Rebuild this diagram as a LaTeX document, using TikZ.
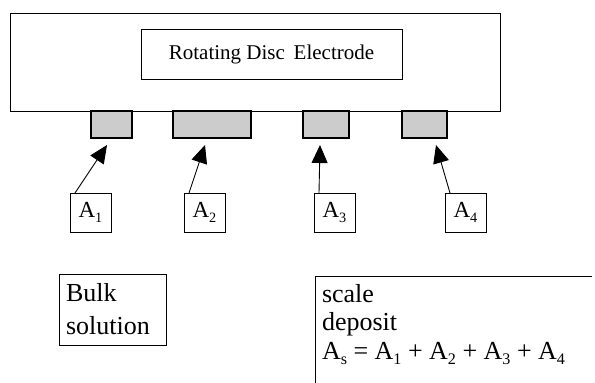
\documentclass[tikz,border=0pt]{standalone}
\usepackage{fontspec}
\usepackage{graphicx}
\setmainfont{Liberation Serif}
\usetikzlibrary{arrows.meta,calc}

% lowered, reduced subscript in text font
\newcommand{\lowsub}[1]{\raisebox{-0.22em}{\scalebox{0.62}{#1}}}

\tikzset{
  frame/.style={draw=black, line width=0.9pt, inner sep=0pt, outer sep=0pt, anchor=north west},
  pad/.style={frame, fill=black!20, line width=1.3pt},
  labelbox/.style={frame, minimum width=41pt, minimum height=39pt, font=\fontsize{23}{27}\selectfont},
  arr/.style={line width=0.9pt, -{Triangle[length=18pt,width=16pt]}},
  txt/.style={font=\fontsize{26}{33}\selectfont, align=left, anchor=north west}
}

\begin{document}
\begin{tikzpicture}[x=1pt, y=-1pt]
  \useasboundingbox[fill=white] (0,0) rectangle (595,383);

  % electrode body and its label
  \node[frame, minimum width=490pt, minimum height=98pt] (body) at (10,13) {};
  \node[frame, minimum width=261pt, minimum height=50pt,
        font=\fontsize{21}{25}\selectfont] (rde) at (141,29) {Rotating Disc\, Electrode};

  % surface areas on the electrode face
  \node[pad, minimum width=41pt, minimum height=27pt] (g1) at (91,111) {};
  \node[pad, minimum width=78pt, minimum height=27pt] (g2) at (173,111) {};
  \node[pad, minimum width=46pt, minimum height=27pt] (g3) at (303,111) {};
  \node[pad, minimum width=45pt, minimum height=27pt] (g4) at (402,111) {};

  % area labels
  \node[labelbox] (a1) at (70,193) {A\lowsub{1}};
  \node[labelbox] (a2) at (184,193) {A\lowsub{2}};
  \node[labelbox] (a3) at (314,193) {A\lowsub{3}};
  \node[labelbox] (a4) at (445,193) {A\lowsub{4}};

  \coordinate (t1) at (107,145);
  \coordinate (t2) at (205,145);
  \coordinate (t3) at (320,145);
  \coordinate (t4) at (436,145);

  \draw[arr] ([xshift=5pt]a1.north west) -- (t1);
  \draw[arr] ([xshift=5pt]a2.north west) -- (t2);
  \draw[arr] ([xshift=5pt]a3.north west) -- (t3);
  \draw[arr] ([xshift=5pt]a4.north west) -- (t4);

  % bulk solution
  \node[frame, txt, text width=93pt, inner xsep=7pt, minimum height=71pt] (bulk) at (59,274)
    {Bulk\\solution};

  % scale deposit (box runs off the right and bottom)
  \node[txt, font=\fontsize{26}{28.5}\selectfont, inner xsep=7pt, inner ysep=8pt, outer sep=0pt]
    (scale) at (315,276)
    {scale\\deposit\\A\lowsub{s} = A\lowsub{1} + A\lowsub{2} + A\lowsub{3} + A\lowsub{4}};
  \coordinate (sr) at (592,276);
  \coordinate (sb) at (315,383);
  \draw[line width=0.9pt] (sr) -- (scale.north west) -- (sb);
\end{tikzpicture}
\end{document}
